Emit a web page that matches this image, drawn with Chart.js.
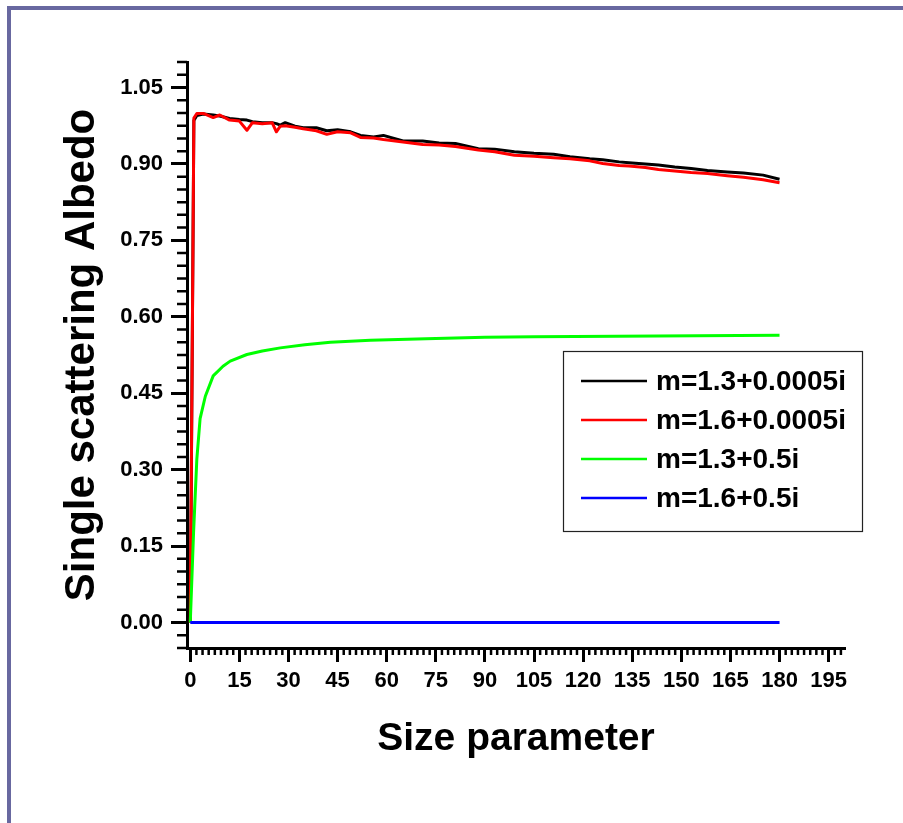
<!DOCTYPE html>
<html>
<head>
<meta charset="utf-8">
<script src="https://cdn.jsdelivr.net/npm/chart.js@4.4.0/dist/chart.umd.min.js"></script>
<style>
  html, body { margin: 0; padding: 0; background: #fff; }
  #wrap { position: relative; width: 903px; height: 823px; overflow: hidden; }
  #frame { position: absolute; left: 7px; top: 6px; width: 1000px; height: 1000px;
           border-left: 4px solid #6868a0; border-top: 4px solid #6868a0; pointer-events: none; }
  canvas { position: absolute; left: 0; top: 0; }
</style>
</head>
<body>
<div id="wrap">
  <canvas id="chart" width="903" height="823"></canvas>
  <div id="frame"></div>
</div>
<script>
/* ── Data ─────────────────────────────────────── */
const labels = ['m=1.3+0.0005i', 'm=1.6+0.0005i', 'm=1.3+0.5i', 'm=1.6+0.5i'];

// low-absorption curves (black, red) share the same x samples
const xLow = [0, 1.1, 2, 4, 7, 9, 12, 15, 17.3, 19, 22, 25, 26.3, 27.5, 29, 32, 34.5, 38.5, 41.7, 45,
              49, 52, 56, 59, 65, 71, 76, 81, 88, 93, 99, 105, 111, 116, 122, 126, 131, 134, 139, 143,
              148, 153, 158, 164, 169, 175, 180];
const albedo13Low = [0, 0.985, 0.995, 0.998, 0.996, 0.994, 0.989, 0.987, 0.986, 0.983, 0.981, 0.981, 0.979, 0.976, 0.981, 0.974, 0.971, 0.971, 0.965, 0.967,
                     0.963, 0.956, 0.953, 0.956, 0.945, 0.945, 0.941, 0.940, 0.930, 0.929, 0.924, 0.921, 0.919, 0.914, 0.910, 0.908, 0.904, 0.9025, 0.900, 0.898,
                     0.894, 0.891, 0.887, 0.884, 0.882, 0.878, 0.870];
const albedo16Low = [0, 0.990, 0.999, 0.999, 0.991, 0.996, 0.986, 0.984, 0.966, 0.981, 0.979, 0.981, 0.963, 0.974, 0.975, 0.972, 0.969, 0.965, 0.958, 0.963,
                     0.961, 0.952, 0.951, 0.948, 0.943, 0.938, 0.937, 0.934, 0.9275, 0.924, 0.917, 0.915, 0.912, 0.910, 0.906, 0.901, 0.897, 0.896, 0.893, 0.889,
                     0.886, 0.883, 0.881, 0.877, 0.874, 0.869, 0.863];

const xHigh13 = [0, 1, 2, 3, 4.6, 7, 10, 12.2, 17.3, 22, 27.5, 35, 42.8, 55, 72, 90, 105, 130, 155, 180];
const albedo13High = [0, 0.176, 0.32, 0.40, 0.444, 0.484, 0.503, 0.513, 0.526, 0.533, 0.539, 0.545, 0.550, 0.554, 0.557, 0.560, 0.561, 0.562, 0.563, 0.564];

const xHigh16 = [0, 180];
const albedo16High = [0, 0];

const xTicks = [0, 15, 30, 45, 60, 75, 90, 105, 120, 135, 150, 165, 180, 195];
const yTicks = [0, 0.15, 0.30, 0.45, 0.60, 0.75, 0.90, 1.05];

const X_MIN = -1, X_MAX = 200, X_MINOR = 15 / 8;
const Y_MIN = -0.05, Y_MAX = 1.10, Y_MINOR = 0.025;

const pts = (xs, ys) => xs.map((x, i) => ({ x, y: ys[i] }));

const FONT = '"Liberation Sans", Arial, sans-serif';

/* ── Minor ticks (Chart.js has none) ──────────── */
const minorTicks = {
  id: 'minorTicks',
  afterDraw(chart) {
    const { ctx, scales: { x, y } } = chart;
    ctx.save();
    ctx.strokeStyle = '#000';
    ctx.lineWidth = 2.5;
    ctx.beginPath();
    for (let i = 1; i * X_MINOR <= X_MAX + 1e-6; i++) {
      if (i % 8 === 0) continue;
      const px = x.getPixelForValue(i * X_MINOR);
      ctx.moveTo(px, y.bottom); ctx.lineTo(px, y.bottom + 7);
    }
    for (let k = 0; Y_MIN + k * Y_MINOR <= Y_MAX + 1e-6; k++) {
      if ((k - 2) % 6 === 0) continue;
      const py = y.getPixelForValue(Y_MIN + k * Y_MINOR);
      ctx.moveTo(x.left - 10, py); ctx.lineTo(x.left, py);
    }
    ctx.stroke();
    ctx.restore();
  }
};

/* ── Boxed legend ─────────────────────────────── */
const boxLegend = {
  id: 'boxLegend',
  afterDraw(chart) {
    const { ctx } = chart;
    ctx.save();
    ctx.fillStyle = '#fff';
    ctx.fillRect(563, 351, 299, 180);
    ctx.strokeStyle = '#222';
    ctx.lineWidth = 1.2;
    ctx.strokeRect(563.5, 351.5, 299, 180);
    ctx.font = 'bold 28px ' + FONT;
    ctx.textBaseline = 'middle';
    chart.data.datasets.forEach((ds, i) => {
      const yy = 381 + i * 39;
      ctx.strokeStyle = ds.borderColor;
      ctx.lineWidth = 2.5;
      ctx.beginPath(); ctx.moveTo(581, yy); ctx.lineTo(647, yy); ctx.stroke();
      ctx.fillStyle = '#000';
      ctx.fillText(ds.label, 656, yy + 1);
    });
    ctx.restore();
  }
};

const line = { borderWidth: 3, pointRadius: 0, tension: 0, fill: false, borderJoinStyle: 'round' };

new Chart(document.getElementById('chart'), {
  type: 'line',
  data: {
    datasets: [
      { ...line, label: labels[0], data: pts(xLow, albedo13Low), borderColor: '#000000', order: 4 },
      { ...line, label: labels[1], data: pts(xLow, albedo16Low), borderColor: '#ff0000', order: 3 },
      { ...line, label: labels[2], data: pts(xHigh13, albedo13High), borderColor: '#00ff00', order: 2 },
      { ...line, label: labels[3], data: pts(xHigh16, albedo16High), borderColor: '#0000ff', order: 1 }
    ]
  },
  options: {
    responsive: false,
    animation: false,
    devicePixelRatio: 1,
    layout: { padding: { left: 0, top: 62, right: 58, bottom: 0 } },
    plugins: { legend: { display: false }, tooltip: { enabled: false } },
    scales: {
      x: {
        type: 'linear', min: X_MIN, max: X_MAX,
        afterBuildTicks: s => { s.ticks = xTicks.map(v => ({ value: v })); },
        afterFit: s => { s.height = 175; },
        grid: { display: true, drawOnChartArea: false, drawTicks: true, tickLength: 14, tickWidth: 3, tickColor: '#000' },
        border: { display: true, color: '#000', width: 3 },
        ticks: { color: '#000', font: { family: FONT, size: 22, weight: 'bold' }, padding: 6,
                 maxRotation: 0, autoSkip: false, callback: v => String(v) },
        title: { display: true, text: 'Size parameter', color: '#000',
                 font: { family: FONT, size: 39, weight: 'bold' }, padding: { top: 0, bottom: 60 } }
      },
      y: {
        type: 'linear', min: Y_MIN, max: Y_MAX,
        afterBuildTicks: s => { s.ticks = yTicks.map(v => ({ value: v })); },
        afterFit: s => { s.width = 187; },
        grid: { display: true, drawOnChartArea: false, drawTicks: true, tickLength: 16, tickWidth: 3, tickColor: '#000' },
        border: { display: true, color: '#000', width: 3 },
        ticks: { color: '#000', font: { family: FONT, size: 22, weight: 'bold' }, padding: 8,
                 autoSkip: false, callback: v => v.toFixed(2) },
        title: { display: true, text: 'Single scattering Albedo', color: '#000',
                 font: { family: FONT, size: 42, weight: 'bold' }, padding: { top: 57, bottom: 0 } }
      }
    }
  },
  plugins: [minorTicks, boxLegend]
});
</script>
</body>
</html>
